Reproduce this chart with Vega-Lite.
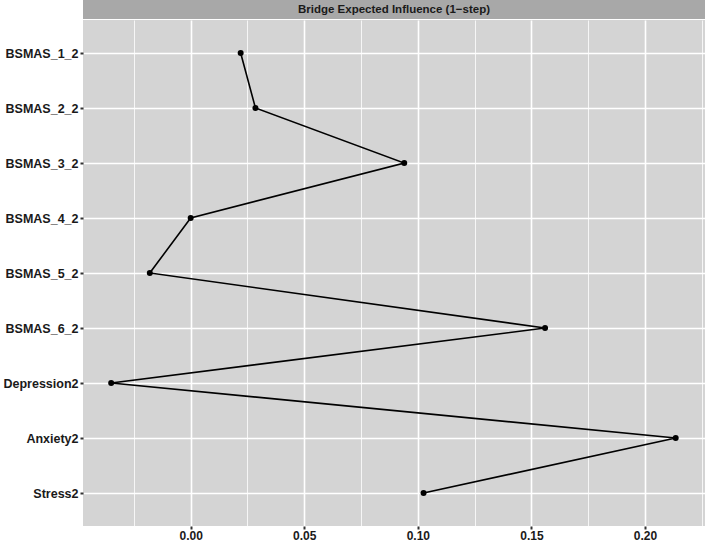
{
  "$schema": "https://vega.github.io/schema/vega-lite/v6.json",
  "background": "white",
  "padding": {"left": 2, "top": 0, "right": 1, "bottom": 0},
  "config": {
    "font": "Liberation Sans",
    "view": {"stroke": null},
    "concat": {"spacing": 1}
  },
  "datasets": {
    "pts": [
      {"node": "BSMAS_1_2", "value": 0.022, "ord": 1},
      {"node": "BSMAS_2_2", "value": 0.0285, "ord": 2},
      {"node": "BSMAS_3_2", "value": 0.094, "ord": 3},
      {"node": "BSMAS_4_2", "value": 0.0, "ord": 4},
      {"node": "BSMAS_5_2", "value": -0.018, "ord": 5},
      {"node": "BSMAS_6_2", "value": 0.156, "ord": 6},
      {"node": "Depression2", "value": -0.035, "ord": 7},
      {"node": "Anxiety2", "value": 0.2135, "ord": 8},
      {"node": "Stress2", "value": 0.1025, "ord": 9}
    ],
    "strip": [{"label": "Bridge Expected Influence (1\u2212step)"}]
  },
  "vconcat": [
    {
      "width": 622,
      "height": 19,
      "view": {"fill": "#a8a8a8", "stroke": null},
      "data": {"name": "strip"},
      "mark": {"type": "text", "font": "Liberation Sans", "fontSize": 11.5, "fontWeight": "bold", "color": "#1a1a1a", "baseline": "middle"},
      "encoding": {
        "text": {"field": "label", "type": "nominal"}
      }
    },
    {
      "width": 622,
      "height": 506,
      "view": {"fill": "#d4d4d4", "stroke": null},
      "data": {"name": "pts"},
      "encoding": {
        "y": {
          "field": "node", "type": "nominal",
          "sort": {"field": "ord", "order": "ascending"},
          "scale": {"type": "point", "padding": 0.6},
          "axis": {
            "title": null, "domain": false, "grid": true, "gridColor": "white", "gridWidth": 1.6,
            "ticks": true, "tickColor": "#333333", "tickSize": 3, "tickWidth": 2,
            "labelFont": "Liberation Sans", "labelFontSize": 12.5, "labelFontWeight": "bold", "labelColor": "#1a1a1a",
            "labelPadding": 2
          }
        },
        "x": {
          "field": "value", "type": "quantitative",
          "scale": {"domain": [-0.0474, 0.2264], "nice": false, "zero": false}
        }
      },
      "layer": [
        {
          "mark": {"type": "line", "color": "black", "strokeWidth": 1.6},
          "encoding": {
            "order": {"field": "ord", "type": "quantitative"},
            "x": {
              "field": "value", "type": "quantitative",
              "axis": {
                "title": null, "domain": false,
                "values": [0, 0.05, 0.1, 0.15, 0.2], "format": ".2f",
                "grid": true, "gridColor": "white", "gridWidth": 1.6,
                "ticks": true, "tickColor": "#333333", "tickSize": 3, "tickWidth": 2,
                "labelFont": "Liberation Sans", "labelFontSize": 12, "labelFontWeight": "bold", "labelColor": "#1a1a1a",
                "labelPadding": 1
              }
            }
          }
        },
        {
          "mark": {"type": "point", "filled": true, "color": "black", "size": 36, "opacity": 1},
          "encoding": {
            "x": {
              "field": "value", "type": "quantitative",
              "axis": {
                "orient": "top", "title": null, "domain": false, "labels": false, "ticks": false,
                "values": [-0.025, 0.025, 0.075, 0.125, 0.175, 0.225],
                "grid": true, "gridColor": "white", "gridWidth": 0.8
              }
            }
          }
        }
      ],
      "resolve": {"axis": {"x": "independent"}}
    }
  ]
}
